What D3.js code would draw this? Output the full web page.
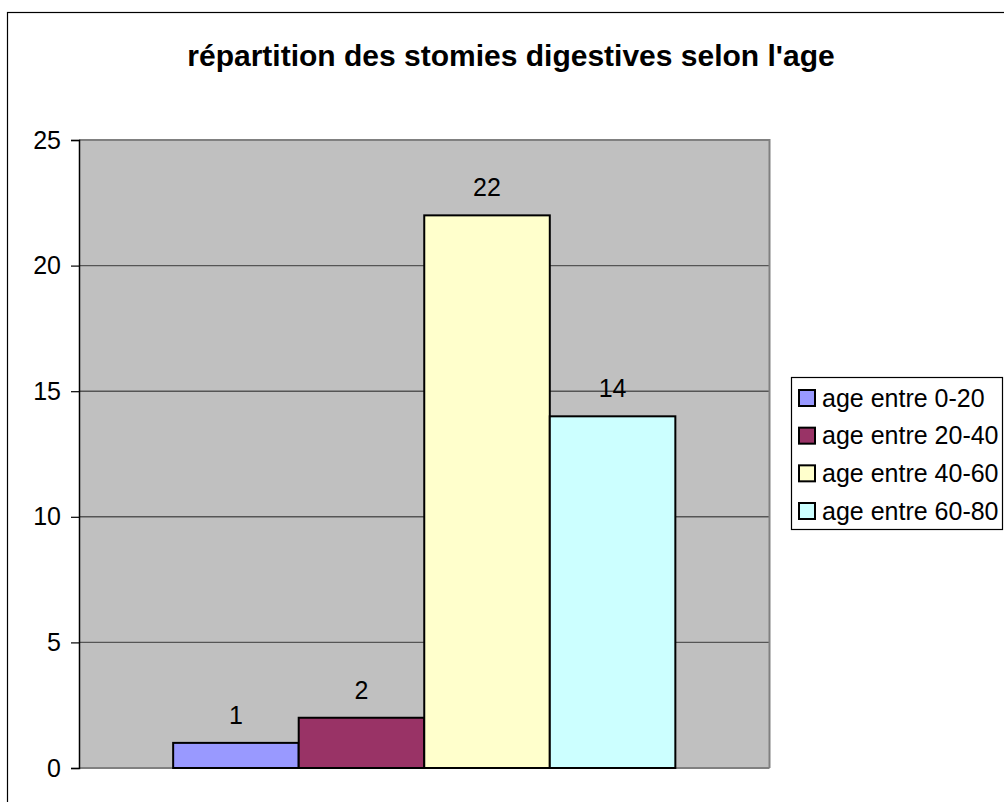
<!DOCTYPE html>
<html>
<head>
<meta charset="utf-8">
<script src="https://cdn.jsdelivr.net/npm/d3@7"></script>
<style>
  html, body { margin: 0; padding: 0; background: #fff; }
  svg { display: block; font-family: Arial, "Liberation Sans", sans-serif; }
</style>
</head>
<body>
<svg id="chart" width="1004" height="802"></svg>
<script>
const title = "répartition des stomies digestives selon l'age";
const series = ["age entre 0-20", "age entre 20-40", "age entre 40-60", "age entre 60-80"];
const values = [1, 2, 22, 14];
const colors = ["#9999FF", "#993366", "#FFFFCC", "#CCFFFF"];
const yTicks = [0, 5, 10, 15, 20, 25];

const svg = d3.select("#chart");

// outer chart border
svg.append("rect").attr("x", 7.5).attr("y", 12.5).attr("width", 1010).attr("height", 800)
  .attr("fill", "#fff").attr("stroke", "#000").attr("stroke-width", 1.2);

// title
svg.append("text").attr("x", 511).attr("y", 66).attr("text-anchor", "middle")
  .attr("font-size", 30).attr("font-weight", "bold").attr("fill", "#000").text(title);

const plot = { x0: 79, x1: 769.5, y0: 140, y1: 768 };

const y = d3.scaleLinear().domain([0, 25]).range([plot.y1, plot.y0]);
const x = d3.scaleBand().domain(series).range([plot.x0, plot.x1])
  .paddingInner(0).paddingOuter(0.75);

// plot area
svg.append("rect").attr("x", plot.x0).attr("y", plot.y0)
  .attr("width", plot.x1 - plot.x0).attr("height", plot.y1 - plot.y0)
  .attr("fill", "#C0C0C0");

// gridlines
svg.append("g").selectAll("line").data(yTicks.filter(d => d > 0 && d < 25)).join("line")
  .attr("x1", plot.x0).attr("x2", plot.x1)
  .attr("y1", d => y(d)).attr("y2", d => y(d))
  .attr("stroke", "#555").attr("stroke-width", 1.4);

// plot border top/right (gray)
svg.append("path")
  .attr("d", `M${plot.x0},${plot.y0}H${plot.x1}V${plot.y1}`)
  .attr("fill", "none").attr("stroke", "#808080").attr("stroke-width", 2);
// bottom zero line
svg.append("line").attr("x1", plot.x0).attr("x2", plot.x1)
  .attr("y1", plot.y1).attr("y2", plot.y1)
  .attr("stroke", "#808080").attr("stroke-width", 2);

// y axis
const yAxis = d3.axisLeft(y).tickValues(yTicks).tickSize(8).tickPadding(10);
const ga = svg.append("g").attr("transform", `translate(${plot.x0},0)`).call(yAxis);
ga.select(".domain").attr("stroke", "#000").attr("stroke-width", 1.5);
ga.selectAll(".tick line").attr("stroke", "#000").attr("stroke-width", 1.2);
ga.selectAll(".tick text").attr("font-size", 25).attr("fill", "#000")
  .attr("font-family", "Arial, 'Liberation Sans', sans-serif");

// bars
svg.append("g").selectAll("rect").data(series).join("rect")
  .attr("x", d => x(d)).attr("width", x.bandwidth())
  .attr("y", (d, i) => y(values[i]))
  .attr("height", (d, i) => y(0) - y(values[i]))
  .attr("fill", (d, i) => colors[i])
  .attr("stroke", "#000").attr("stroke-width", 2);

// value labels
svg.append("g").selectAll("text").data(series).join("text")
  .attr("x", d => x(d) + x.bandwidth() / 2)
  .attr("y", (d, i) => y(values[i]) - 19)
  .attr("text-anchor", "middle").attr("font-size", 25).attr("fill", "#000")
  .text((d, i) => values[i]);

// legend
const lg = svg.append("g");
lg.append("rect").attr("x", 791.5).attr("y", 377.5).attr("width", 211).attr("height", 152)
  .attr("fill", "#fff").attr("stroke", "#000").attr("stroke-width", 1.2);
const ly = d3.scalePoint().domain(series).range([398, 511]);
const items = lg.selectAll("g.item").data(series).join("g").attr("class", "item")
  .attr("transform", d => `translate(0,${ly(d)})`);
items.append("rect").attr("x", 799).attr("y", -8).attr("width", 16).attr("height", 16)
  .attr("fill", (d, i) => colors[i]).attr("stroke", "#000").attr("stroke-width", 2);
items.append("text").attr("x", 822).attr("y", 0).attr("dy", "0.35em")
  .attr("font-size", 25).attr("fill", "#000").text(d => d);
</script>
</body>
</html>
